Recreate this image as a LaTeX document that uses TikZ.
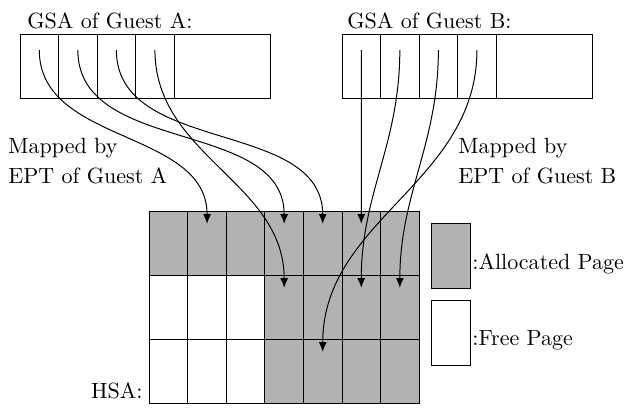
\documentclass[tikz,border=0pt]{standalone}
\usetikzlibrary{calc,arrows.meta}

\tikzset{
  page/.style={draw, line width=0.45pt, minimum width=17.5pt, minimum height=29.06pt, inner sep=0pt, outer sep=0pt},
  used/.style={page, fill=black!30},
  free/.style={page, fill=white},
  map/.style={-{Latex[length=4.4pt,width=3.6pt]}, line width=0.45pt},
  lbl/.style={inner sep=0pt},
}

\begin{document}
\begin{tikzpicture}[x=0.454pt,y=-0.454pt]
\useasboundingbox (0,0) rectangle (634,407);
% guest physical pages
\foreach \i in {1,...,4}{
  \node[page] (a\i) at ({20+38.55*(\i-0.5)},66) {};
  \node[page] (b\i) at ({342+38.55*(\i-0.5)},66) {};
}
\node[page, minimum width=43.9pt] (arest) at (222.6,66) {};
\node[page, minimum width=43.5pt] (brest) at (544.1,66) {};
\node[lbl, anchor=base west] (gsaA) at (27,28) {GSA of Guest A:};
\node[lbl, anchor=base west] (gsaB) at (347,28) {GSA of Guest B:};

% host physical pages
\foreach \c in {1,...,7}
  \node[used] (h1\c) at ({149.25+38.55*(\c-0.5)},243) {};
\foreach \r/\y in {2/307,3/371}{
  \foreach \c in {1,2,3}
    \node[free] (h\r\c) at ({149.25+38.55*(\c-0.5)},\y) {};
  \foreach \c in {4,...,7}
    \node[used] (h\r\c) at ({149.25+38.55*(\c-0.5)},\y) {};
}
\node[lbl, anchor=base east] (hsa) at (143,398) {HSA:};

% EPT mappings
\foreach \s/\t in {a1/h12,a2/h14,a3/h15,a4/h24,b1/h16,b2/h26,b3/h27,b4/h35}
  \draw[map] ($(\s.north)!.25!(\s.south)$) to[out=-90,in=90] ($(\t.north)!.2!(\t.south)$);
\node[lbl, align=left, anchor=north west] (eptA) at (8,137.7) {Mapped by\\[1.6pt]EPT of Guest A};
\node[lbl, align=left, anchor=north west] (eptB) at (458,137.7) {Mapped by\\[1.6pt]EPT of Guest B};

% legend
\node[used, minimum width=17.3pt, minimum height=29.5pt] (kused) at (451,256) {};
\node[free, minimum width=17.3pt, minimum height=29.5pt] (kfree) at (451,333) {};
\node[lbl, anchor=base west] (tused) at (472,269) {:Allocated Page};
\node[lbl, anchor=base west] (tfree) at (472,345) {:Free Page};
\end{tikzpicture}
\end{document}
